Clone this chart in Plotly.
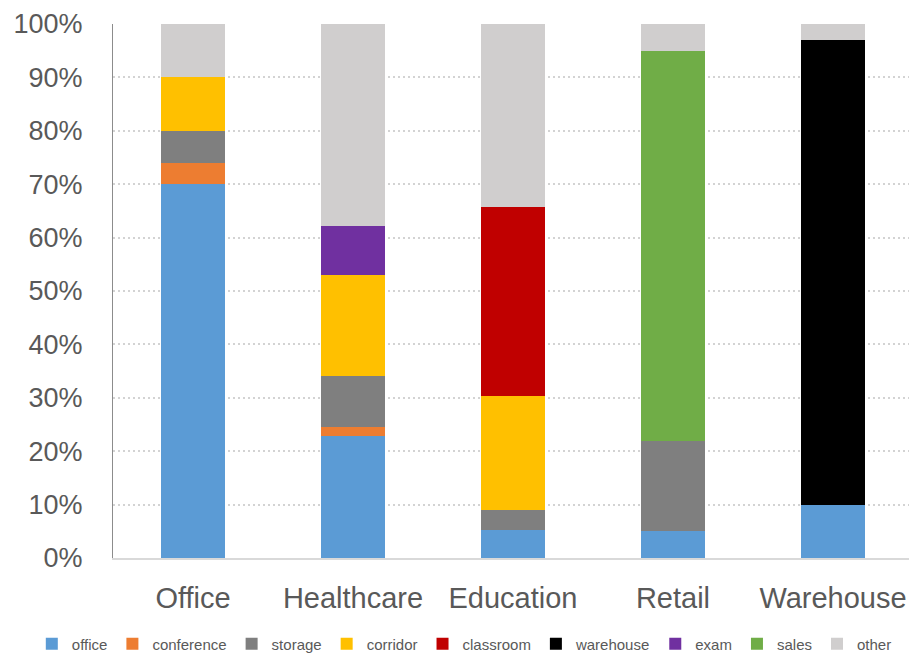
import plotly.graph_objects as go

categories = ["Office", "Healthcare", "Education", "Retail", "Warehouse"]

# shares (%) per space type, in category order
office     = [70.0, 22.8, 5.2, 5.0, 10.0]
conference = [4.0, 1.7, 0.0, 0.0, 0.0]
storage    = [6.0, 9.6, 3.8, 17.0, 0.0]
corridor   = [10.0, 18.9, 21.3, 0.0, 0.0]
classroom  = [0.0, 0.0, 35.4, 0.0, 0.0]
warehouse  = [0.0, 0.0, 0.0, 0.0, 87.0]
exam       = [0.0, 9.2, 0.0, 0.0, 0.0]
sales      = [0.0, 0.0, 0.0, 73.0, 0.0]
other      = [10.0, 37.8, 34.3, 5.0, 3.0]

series_names = ["office", "conference", "storage", "corridor", "classroom",
                "warehouse", "exam", "sales", "other"]
series_values = [office, conference, storage, corridor, classroom,
                 warehouse, exam, sales, other]
series_colors = ["#5B9BD5", "#ED7D31", "#7F7F7F", "#FFC000", "#C00000",
                 "#000000", "#7030A0", "#70AD47", "#D0CECE"]

y_ticks = [0, 10, 20, 30, 40, 50, 60, 70, 80, 90, 100]

fig = go.Figure()
for name, vals, col in zip(series_names, series_values, series_colors):
    fig.add_trace(go.Bar(
        name=name, x=categories, y=vals,
        marker=dict(color=col, line=dict(width=0)),
    ))

fig.update_layout(
    barmode="stack",
    bargap=0.6,
    width=909, height=653,
    margin=dict(l=113, r=0, t=24, b=95, autoexpand=False),
    plot_bgcolor="white", paper_bgcolor="white",
    font=dict(family="Liberation Sans, Arial, sans-serif", color="#595959"),
    showlegend=True,
    legend=dict(
        orientation="h", traceorder="normal",
        x=-0.102, xanchor="left", y=-0.161, yanchor="middle",
        font=dict(family="Liberation Sans, Arial, sans-serif",
                  size=15, color="#595959"),
        itemwidth=30,
        bgcolor="rgba(0,0,0,0)",
    ),
)

fig.update_xaxes(
    range=[-0.5, 4.475],
    showgrid=False,
    showline=True, linecolor="#D9D9D9", linewidth=1.5,
    ticks="", tickfont=dict(size=29, color="#595959"),
    ticklabelstandoff=13,
)
fig.update_yaxes(
    range=[0, 100],
    tickvals=y_ticks, ticktext=[f"{v}%" for v in y_ticks],
    showgrid=True, gridcolor="#D3D3D3", gridwidth=2, griddash="2px,3px",
    zeroline=False,
    showline=True, linecolor="#8C8C8C", linewidth=1,
    ticks="", tickfont=dict(size=27, color="#595959"),
    ticklabelstandoff=24,
)

fig.write_html("out.html")
